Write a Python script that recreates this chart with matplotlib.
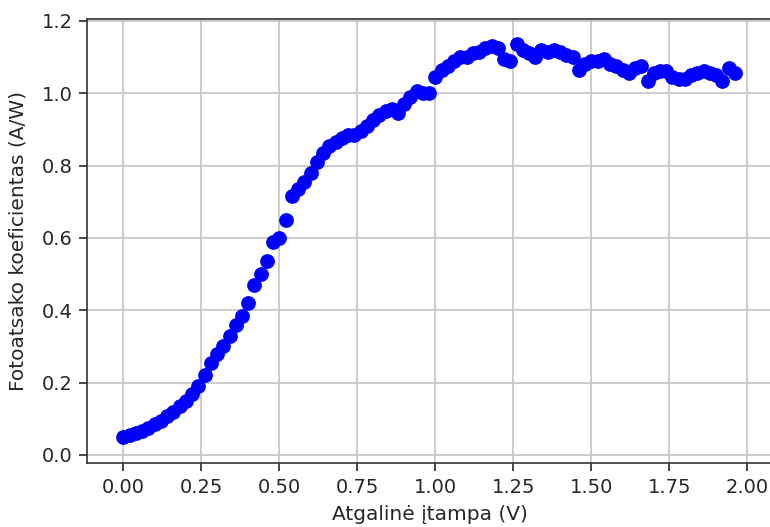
import matplotlib
matplotlib.use("Agg")
import matplotlib.pyplot as plt

# reverse bias sweep (V) and measured responsivity (A/W)
voltage = [
    0.00, 0.02, 0.04, 0.06, 0.08, 0.10, 0.12, 0.14, 0.16, 0.18,
    0.20, 0.22, 0.24, 0.26, 0.28, 0.30, 0.32, 0.34, 0.36, 0.38,
    0.40, 0.42, 0.44, 0.46, 0.48, 0.50, 0.52, 0.54, 0.56, 0.58,
    0.60, 0.62, 0.64, 0.66, 0.68, 0.70, 0.72, 0.74, 0.76, 0.78,
    0.80, 0.82, 0.84, 0.86, 0.88, 0.90, 0.92, 0.94, 0.96, 0.98,
    1.00, 1.02, 1.04, 1.06, 1.08, 1.10, 1.12, 1.14, 1.16, 1.18,
    1.20, 1.22, 1.24, 1.26, 1.28, 1.30, 1.32, 1.34, 1.36, 1.38,
    1.40, 1.42, 1.44, 1.46, 1.48, 1.50, 1.52, 1.54, 1.56, 1.58,
    1.60, 1.62, 1.64, 1.66, 1.68, 1.70, 1.72, 1.74, 1.76, 1.78,
    1.80, 1.82, 1.84, 1.86, 1.88, 1.90, 1.92, 1.94, 1.96,
]
responsivity = [
    0.050, 0.055, 0.062, 0.067, 0.075, 0.085, 0.095, 0.107, 0.120, 0.135,
    0.150, 0.168, 0.192, 0.220, 0.255, 0.280, 0.300, 0.330, 0.360, 0.385,
    0.420, 0.470, 0.500, 0.535, 0.588, 0.600, 0.650, 0.715, 0.735, 0.755,
    0.780, 0.810, 0.835, 0.855, 0.865, 0.875, 0.885, 0.885, 0.895, 0.910,
    0.925, 0.940, 0.950, 0.955, 0.945, 0.970, 0.990, 1.005, 1.000, 1.000,
    1.045, 1.065, 1.075, 1.090, 1.100, 1.100, 1.110, 1.115, 1.125, 1.130,
    1.125, 1.095, 1.090, 1.135, 1.120, 1.110, 1.100, 1.120, 1.115, 1.120,
    1.115, 1.105, 1.100, 1.065, 1.080, 1.090, 1.090, 1.095, 1.080, 1.075,
    1.065, 1.055, 1.070, 1.075, 1.035, 1.055, 1.060, 1.060, 1.045, 1.040,
    1.040, 1.050, 1.055, 1.060, 1.055, 1.050, 1.035, 1.070, 1.055,
]
xticks = [0.00, 0.25, 0.50, 0.75, 1.00, 1.25, 1.50, 1.75, 2.00]
yticks = [0.0, 0.2, 0.4, 0.6, 0.8, 1.0, 1.2]

fig = plt.figure(figsize=(7.7, 5.27), dpi=100)
ax = fig.add_axes([87.3 / 770, 1 - 463.3 / 527, (772 - 87.3) / 770, (463.3 - 19) / 527])

ax.plot(voltage, responsivity, 'o', color='blue', ms=9.6)

ax.set_xlim(-0.116, 2.079)
ax.set_ylim(-0.023, 1.205)
ax.set_xticks(xticks)
ax.set_yticks(yticks)
ax.set_xticklabels([f'{t:.2f}' for t in xticks])
ax.set_yticklabels([f'{t:.1f}' for t in yticks])
ax.tick_params(labelsize=14, length=5.5, width=1.2, pad=5, colors='#262626')
ax.grid(True, color='#c4c4c4', linewidth=1.2)
for s in ax.spines.values():
    s.set_linewidth(1.2)
    s.set_color('#333333')

ax.set_xlabel('Atgalinė įtampa (V)', fontsize=14.5, color='#262626', labelpad=6)
ax.set_ylabel('Fotoatsako koeficientas (A/W)', fontsize=14.5, color='#262626', labelpad=10)

fig.savefig('out.png', dpi=100)
